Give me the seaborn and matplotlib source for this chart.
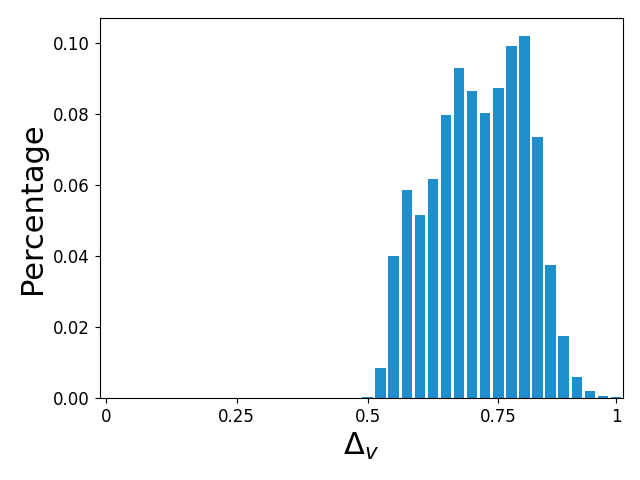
import matplotlib
matplotlib.use("Agg")
import matplotlib.pyplot as plt
import seaborn as sns
import pandas as pd

# 40 bins of Delta_v in [0, 1]; bins 0..19 are empty
bins = list(range(40))
values = [0.0] * 20 + [
    0.0004, 0.0085, 0.0400, 0.0585, 0.0515, 0.0616, 0.0796, 0.0928, 0.0863, 0.0801,
    0.0872, 0.0992, 0.1018, 0.0734, 0.0375, 0.0175, 0.0060, 0.0021, 0.0007, 0.0004,
]
tick_positions = [0, 10, 20, 30, 39]
tick_labels = ["0", "0.25", "0.5", "0.75", "1"]

df = pd.DataFrame({"bin": bins, "pct": values})

fig, ax = plt.subplots(figsize=(6.4, 4.8), dpi=100)
sns.barplot(data=df, x="bin", y="pct", color="#1e8ecc", saturation=1, ax=ax, width=0.8)
ax.set_xticks(tick_positions)
ax.set_xticklabels(tick_labels, fontsize=12)
ax.tick_params(axis="y", labelsize=12)
ax.set_xlabel(r"$\Delta_v$", fontsize=22)
ax.set_ylabel("Percentage", fontsize=22)
fig.subplots_adjust(left=99.5 / 640, right=622.5 / 640, top=1 - 18.3 / 480, bottom=1 - 398 / 480)
fig.savefig("out.png", dpi=100)
